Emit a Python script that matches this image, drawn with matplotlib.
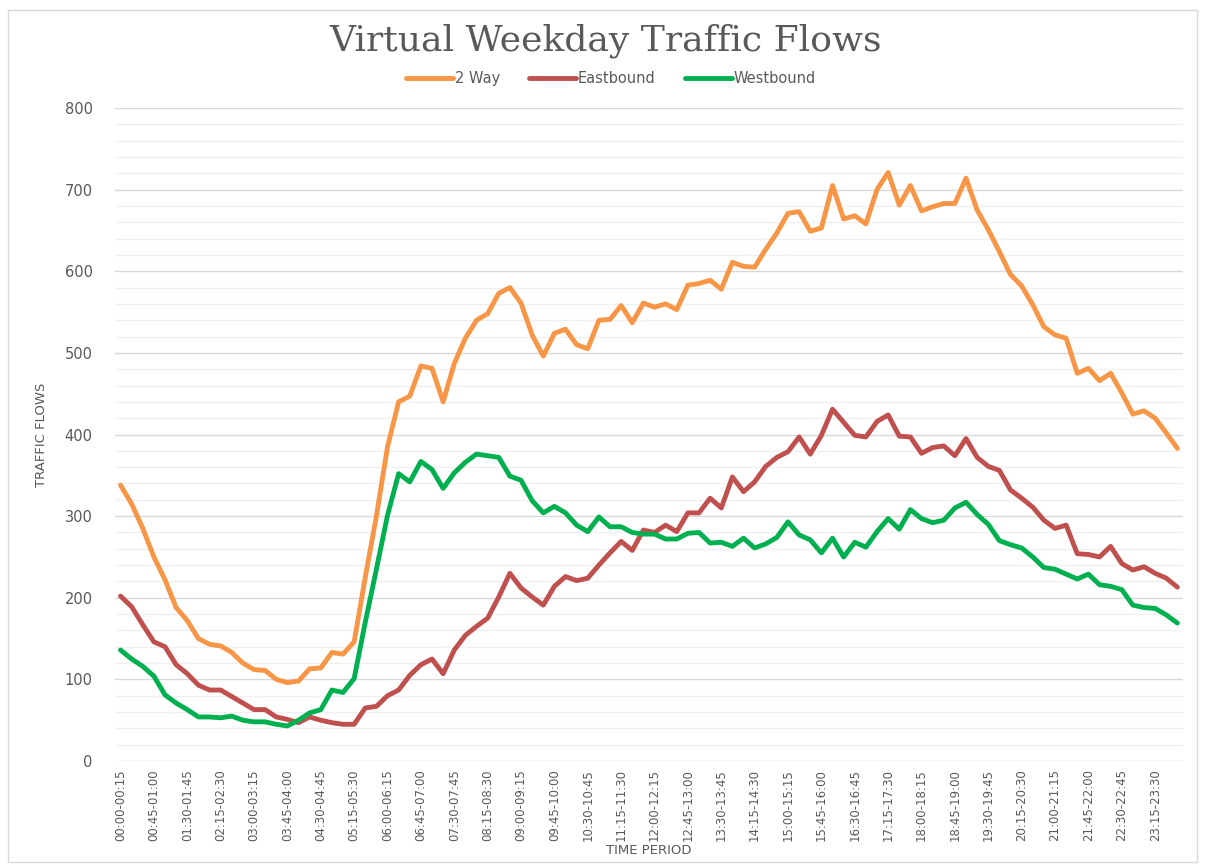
import matplotlib.pyplot as plt
from matplotlib.patches import Rectangle
from matplotlib.ticker import MultipleLocator

# periodos de 15 minutos (96 por dia)
periods = [f"{(i*15)//60:02d}:{(i*15)%60:02d}-{((i+1)*15)//60:02d}:{((i+1)*15)%60:02d}" for i in range(96)]

two_way = [338, 315, 285, 250, 222, 188, 172, 150, 143, 141, 133, 120, 112, 111, 100, 96,
           98, 113, 114, 133, 131, 146, 225, 300, 385, 440, 447, 484, 481, 440, 487, 518,
           540, 548, 573, 580, 561, 522, 496, 524, 529, 510, 505, 540, 541, 558, 537, 561,
           556, 560, 553, 583, 585, 589, 578, 611, 606, 605, 627, 647, 671, 673, 649, 653,
           705, 664, 668, 658, 700, 721, 681, 705, 674, 679, 683, 683, 714, 675, 651, 624,
           596, 582, 559, 532, 522, 518, 475, 481, 466, 475, 451, 425, 429, 420, 402, 383]

eastbound = [202, 189, 167, 146, 140, 118, 107, 93, 87, 87, 79, 71, 63, 63, 54, 51,
             47, 54, 50, 47, 45, 45, 65, 67, 80, 87, 105, 118, 125, 107, 136, 154,
             165, 175, 201, 230, 212, 201, 191, 214, 226, 221, 224, 240, 255, 269, 258, 283,
             280, 289, 281, 304, 304, 322, 310, 348, 330, 342, 361, 372, 379, 397, 376, 399,
             431, 415, 399, 397, 416, 424, 398, 397, 377, 384, 386, 374, 395, 372, 361, 356,
             332, 322, 311, 295, 285, 289, 254, 253, 250, 263, 242, 234, 238, 230, 224, 213]

westbound = [136, 125, 116, 104, 81, 71, 63, 54, 54, 53, 55, 50, 48, 48, 45, 43,
             50, 59, 63, 87, 84, 101, 170, 235, 301, 352, 342, 367, 357, 334, 353, 366,
             376, 374, 372, 349, 344, 319, 304, 312, 304, 289, 281, 299, 287, 287, 280, 278,
             278, 272, 272, 279, 280, 267, 268, 263, 273, 261, 266, 274, 293, 277, 271, 255,
             273, 250, 268, 262, 281, 297, 284, 308, 297, 292, 295, 310, 317, 302, 290, 270,
             265, 261, 250, 237, 235, 229, 223, 229, 216, 214, 210, 191, 188, 187, 179, 169]

series_names = ['2 Way', 'Eastbound', 'Westbound']
colors = ['#F79646', '#C0504D', '#00B050']
gray = '#595959'
narrow = ['Liberation Sans Narrow', 'DejaVu Sans']

fig = plt.figure(figsize=(12.05, 8.66), dpi=100)
ax = fig.add_axes([0.0954, 0.1212, 0.8863, 0.7541])

# borde del area del grafico
fig.patches.append(Rectangle((0.007, 0.005), 0.986, 0.983, transform=fig.transFigure,
                             fill=False, edgecolor='#D9D9D9', linewidth=1))

x = list(range(len(periods)))
for name, vals, c in zip(series_names, [two_way, eastbound, westbound], colors):
    ax.plot(x, vals, color=c, linewidth=3.5, label=name, solid_joinstyle='round',
            solid_capstyle='round')

ax.set_xlim(-0.5, len(periods) - 0.5)
ax.set_ylim(0, 800)
ax.yaxis.set_major_locator(MultipleLocator(100))
ax.yaxis.set_minor_locator(MultipleLocator(20))
ax.grid(axis='y', which='major', color='#D9D9D9', linewidth=1)
ax.grid(axis='y', which='minor', color='#F0F0F0', linewidth=1)
ax.set_axisbelow(True)
for s in ax.spines.values():
    s.set_visible(False)

ax.set_xticks(x[::3])
ax.set_xticklabels(periods[::3], rotation=90, fontsize=8.5, family=narrow, color=gray)
ax.tick_params(axis='both', which='both', length=0)
ax.tick_params(axis='x', pad=6)
ax.tick_params(axis='y', pad=16, labelsize=10.5, labelcolor=gray)

ax.set_ylabel('TRAFFIC FLOWS', fontsize=9.5, color=gray, labelpad=12, family=narrow)
ax.set_xlabel('TIME PERIOD', fontsize=9.5, color=gray, labelpad=2, family=narrow)

fig.text(0.503, 0.953, 'Virtual Weekday Traffic Flows', ha='center', va='center',
         fontsize=26, color=gray, family='DejaVu Serif')

fig.legend(loc='center', bbox_to_anchor=(0.507, 0.909), ncol=3, frameon=False,
           fontsize=10.5, handlelength=3.2, handletextpad=0.15, columnspacing=2.0,
           labelcolor=gray)

fig.savefig('out.png', dpi=100)
